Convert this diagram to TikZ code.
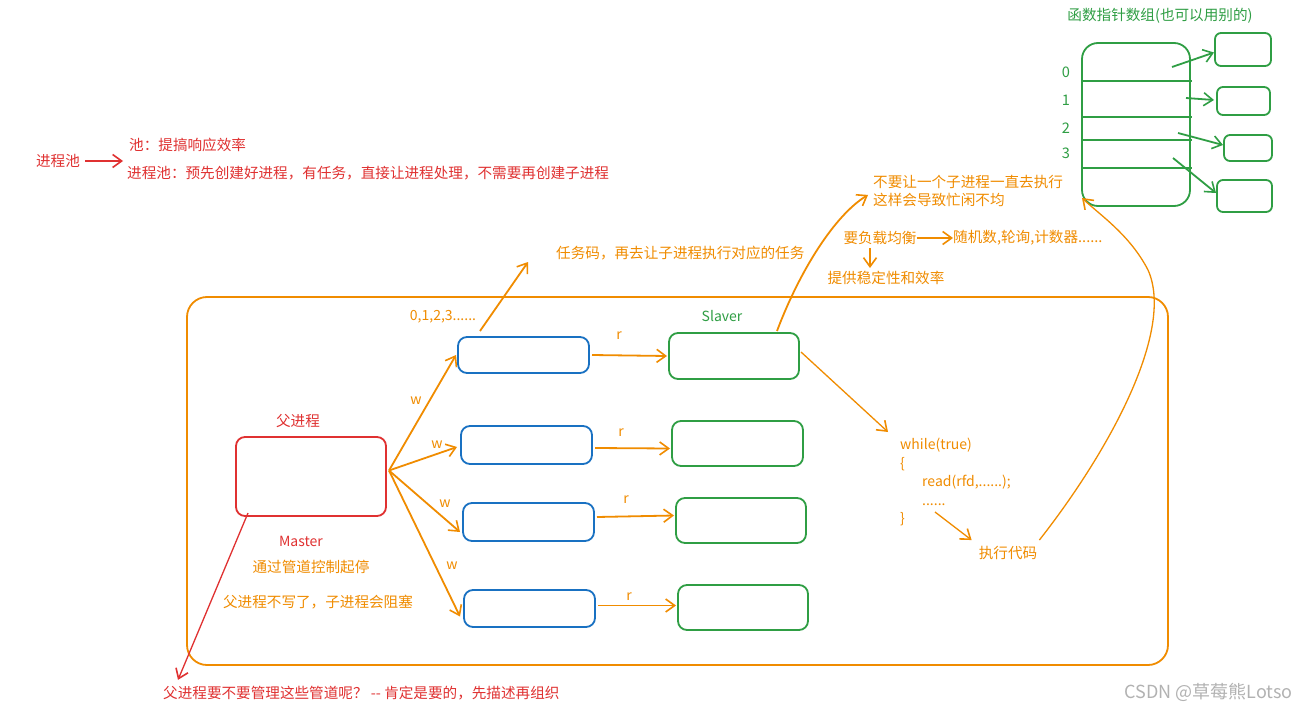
\documentclass[tikz,border=0pt]{standalone}
\usepackage{fontspec}
\setmainfont{Noto Sans CJK SC}
\usetikzlibrary{arrows.meta,calc}
\definecolor{cor}{HTML}{F08C00}
\definecolor{cred}{HTML}{E03131}
\definecolor{cblue}{HTML}{1971C2}
\definecolor{cgreen}{HTML}{2F9E44}
\begin{document}
\begin{tikzpicture}[x=1pt,y=-1pt,
  bx/.style={draw, rounded corners=9pt, line width=1.8pt, inner sep=0pt, outer sep=0pt},
  arr/.style={-{Straight Barb[length=9pt,width=13pt,line width=1.6pt]}, line width=1.8pt},
  txt/.style={inner sep=0pt, font=\fontsize{14.6}{18}\selectfont},
  sm/.style={inner sep=0pt, font=\fontsize{14}{18.5}\selectfont}]
\useasboundingbox (0,0) rectangle (1297,714);
\fill[white] (0,0) rectangle (1297,714);

% left notes
\node[txt, text=cred] (pool) at (58,161) {进程池};
\node[txt, text=cred, anchor=west] (n1) at (129,145) {池：提搞响应效率};
\node[txt, text=cred, anchor=west] (n2) at (127,173) {进程池：预先创建好进程，有任务，直接让进程处理，不需要再创建子进程};
\coordinate (pe) at (123,161);
\draw[arr, cred, line width=1.4pt] (pool.east) ++(5,0) -- (pe);

% frame
\node[bx, draw=cor, rounded corners=20pt, minimum width=981pt, minimum height=368pt] (frame) at (677.5,481) {};

% master
\node[bx, draw=cred, minimum width=150pt, minimum height=79pt] (rb) at (311,476.5) {};
\node[txt, text=cred] (rbl) at (298,421) {父进程};
\node[sm, text=cred] (ms) at (301,541) {Master};
\node[txt, text=cor] (ctl) at (311,567) {通过管道控制起停};
\node[txt, text=cor] (blk) at (318,602) {父进程不写了，子进程会阻塞};

% blue boxes
\node[bx, draw=cblue, minimum width=131pt, minimum height=36pt] (b1) at (523.5,355) {};
\node[bx, draw=cblue, minimum width=131pt, minimum height=38pt] (b2) at (526.5,445) {};
\node[bx, draw=cblue, minimum width=131pt, minimum height=38pt] (b3) at (528.5,522) {};
\node[bx, draw=cblue, minimum width=131pt, minimum height=37pt] (b4) at (529.5,608.5) {};

% green boxes
\node[bx, draw=cgreen, minimum width=130pt, minimum height=46pt] (g1) at (734,356) {};
\node[bx, draw=cgreen, minimum width=131pt, minimum height=45pt] (g2) at (737.5,443.5) {};
\node[bx, draw=cgreen, minimum width=130pt, minimum height=45pt] (g3) at (741,520.5) {};
\node[bx, draw=cgreen, minimum width=130pt, minimum height=45pt] (g4) at (743,607.5) {};
\node[sm, text=cgreen] (slv) at (722,316) {Slaver};

% w arrows
\draw[arr, cor] ($(rb.east)+(3,-6)$) -- ($(b1.west)+(-2,0)$);
\draw[arr, cor] ($(rb.east)+(3,-6)$) -- ($(b2.west)+(-4,2)$);
\draw[arr, cor] ($(rb.east)+(3,-6)$) -- ($(b3.west)+(-3,10)$);
\draw[arr, cor] ($(rb.east)+(3,-6)$) -- ($(b4.west)+(-4,8)$);
\node[sm, text=cor] (w1) at (416,401) {w};
\node[sm, text=cor] (w2) at (437,445) {w};
\node[sm, text=cor] (w3) at (445,504) {w};
\node[sm, text=cor] (w4) at (452,566) {w};

% r arrows
\draw[arr, cor] ($(b1.east)+(3,0)$) -- ($(g1.west)+(-2,0)$);
\draw[arr, cor] ($(b2.east)+(3,3)$) -- ($(g2.west)+(-2,5)$);
\draw[arr, cor] ($(b3.east)+(3,-5)$) -- ($(g3.west)+(-2,-5)$);
\draw[arr, cor] ($(b4.east)+(3,-3)$) -- ($(g4.west)+(-2,-2)$);
\node[sm, text=cor] (r1) at (619,336) {r};
\node[sm, text=cor] (r2) at (621,433) {r};
\node[sm, text=cor] (r3) at (626,500) {r};
\node[sm, text=cor] (r4) at (629,597) {r};

% task code
\node[sm, text=cor] (nums) at (443,317) {0,1,2,3......};
\node[txt, text=cor, anchor=west] (task) at (556,253) {任务码，再去让子进程执行对应的任务};
\draw[arr, cor] ($(b1.north west)+(22,-6)$) -- ($(task.west)+(-28,9)$);

% load balance
\node[txt, text=cor, anchor=north west, align=left] (lb) at (873,175) {不要让一个子进程一直去执行\\这样会导致忙闲不均};
\draw[arr, cor] ($(g1.north)+(43,-2)$) .. controls (800,270) and (835,215) .. ($(lb.west)+(-5,4)$);
\node[txt, text=cor] (bal) at (880,238) {要负载均衡};
\node[txt, text=cor, anchor=west] (algo) at (953,238) {随机数,轮询,计数器......};
\draw[arr, cor] (bal.east) -- (algo.west);
\node[txt, text=cor] (stab) at (886,278) {提供稳定性和效率};
\draw[arr, cor, line width=1.2pt] ($(bal.south)+(-10,3)$) -- ($(stab.north)+(-16,-3)$);

% while code
\node[sm, text=cor, anchor=north west, align=left] (code) at (900,438) {while(true)\\\{\\\hspace{22pt}read(rfd,......);\\\hspace{22pt}......\\\}};
\draw[arr, cor, line width=1.3pt] ($(g1.east)+(2,-4)$) -- ($(code.north west)+(-12,-6)$);
\node[txt, text=cor] (exec) at (1008,553) {执行代码};
\draw[arr, cor, line width=1.3pt] (935,512) -- ($(exec.north west)+(-7,-6)$);

% function pointer array
\node[txt, text=cgreen] (fpt) at (1160,16) {函数指针数组(也可以用别的)};
\node[bx, draw=cgreen, rounded corners=16pt, minimum width=108pt, minimum height=163pt] (arrb) at (1136,124.5) {};
\foreach \yy in {81,117,140,168} \draw[cgreen, line width=1.8pt] (arrb.west |- 0,\yy) -- +(110,0);
\node[txt, text=cgreen] (i0) at (1066,72) {0};
\node[txt, text=cgreen] (i1) at (1066,100) {1};
\node[txt, text=cgreen] (i2) at (1066,128) {2};
\node[txt, text=cgreen] (i3) at (1066,153) {3};
\node[bx, draw=cgreen, rounded corners=6pt, minimum width=56pt, minimum height=33pt] (fa) at (1243,49.5) {};
\node[bx, draw=cgreen, rounded corners=6pt, minimum width=53pt, minimum height=28pt] (fb) at (1243.5,101) {};
\node[bx, draw=cgreen, rounded corners=6pt, minimum width=48pt, minimum height=26pt] (fc) at (1248,148) {};
\node[bx, draw=cgreen, rounded corners=6pt, minimum width=55pt, minimum height=32pt] (fd) at (1244.5,196) {};
\coordinate (s0) at (1172,67);
\coordinate (s1) at (1186,98);
\coordinate (s2) at (1178,133);
\coordinate (s3) at (1173,158);
\draw[arr, cgreen] (s0) -- ($(fa.west)+(-1,3)$);
\draw[arr, cgreen] (s1) -- ($(fb.west)+(-3,-1)$);
\draw[arr, cgreen] (s2) -- ($(fc.west)+(-1,-3)$);
\draw[arr, cgreen] (s3) -- ($(fd.west)+(-1,-3)$);

% long curve back to array
\draw[arr, cor, line width=1.3pt] ($(exec.east)+(2,-13)$) .. controls (1110,450) and (1175,330) .. (1148,270) .. controls (1130,235) and (1100,215) .. ($(arrb.south west)+(0,-8)$);

% bottom red
\node[txt, text=cred, anchor=west] (q) at (163,693) {父进程要不要管理这些管道呢？ -{}- 肯定是要的，先描述再组织};
\draw[arr, cred, line width=1.3pt] ($(rb.south west)+(12,-3)$) -- ($(q.north west)+(15,-6)$);

% watermark
\node[inner sep=0pt, anchor=east, text=black!30, font=\fontsize{18}{20}\selectfont] (wm) at (1293,692) {CSDN @草莓熊Lotso};
\end{tikzpicture}
\end{document}
